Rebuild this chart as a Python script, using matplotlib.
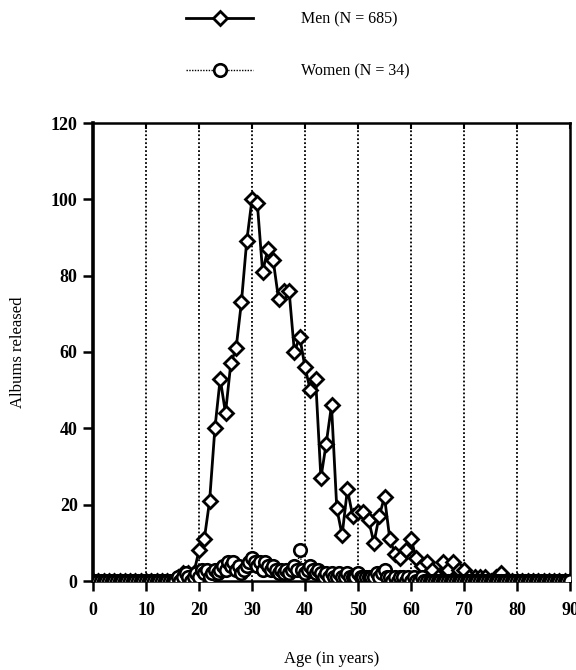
import matplotlib
matplotlib.use("Agg")
import matplotlib.pyplot as plt

# ---- data ----
men_age = list(range(0, 91))
men_albums = [0]*16 + [1, 2, 2, 2, 8, 11, 21, 40, 53, 44, 57, 61, 73, 89,
              100, 99, 81, 87, 84, 74, 76, 76, 60, 64, 56, 50, 53, 27, 36, 46,
              19, 12, 24, 17, 18, 18, 16, 10, 17, 22, 11, 7, 6, 8, 11, 6, 4, 5, 3, 1,
              5, 3, 5, 3, 3, 1, 1, 1, 1, 0, 1, 2, 0, 0, 0, 0, 0, 0, 0, 0,
              0, 0, 0, 0, 0]

women_age = [a / 2 for a in range(0, 181)]
women_albums = ([0]*30 +
                [0, 0, 1, 0, 1, 2, 1, 0, 1, 2,     # 15-19.5
                 1, 3, 2, 3, 1, 2, 3, 2, 3, 4,     # 20-24.5
                 3, 5, 4, 5, 3, 4, 2, 3, 4, 5,     # 25-29.5
                 6, 5, 4, 5, 3, 5, 4, 3, 4, 3,     # 30-34.5
                 2, 3, 2, 3, 2, 3, 4, 3, 8, 3,     # 35-39.5
                 2, 3, 4, 3, 2, 3, 2, 1, 2, 1,     # 40-44.5
                 2, 1, 1, 2, 1, 1, 2, 1, 1, 1,     # 45-49.5
                 2, 1, 1, 1, 1, 1, 1, 2, 1, 2,     # 50-54.5
                 3, 1, 1, 0, 1, 0, 1, 1, 0, 1,     # 55-59.5
                 0, 1, 0, 0, 1, 0, 0, 0, 0, 0] +   # 60-64.5
                [0]*51)                            # 65-90

x_ticks = list(range(0, 91, 10))
y_ticks = list(range(0, 121, 20))
grid_x = list(range(10, 81, 10))

plt.rcParams['font.family'] = ['Liberation Serif', 'DejaVu Serif']

fig = plt.figure(figsize=(5.76, 6.70), dpi=100)
ax = fig.add_axes([93/576, 1-581/670, (570-93)/576, (581-123)/670])

for gx in grid_x:
    ax.axvline(gx, color='black', linestyle=(0, (1, 1.2)), linewidth=1.3, zorder=1)

ax.plot(men_age, men_albums, color='black', linewidth=2.0, marker='D',
        markersize=7, markerfacecolor='white', markeredgecolor='black',
        markeredgewidth=2.0, zorder=3, label='Men (N = 685)')
ax.plot(women_age, women_albums, color='black', linewidth=1.0, linestyle=(0, (1, 1)),
        marker='o', markersize=9, markerfacecolor='white', markeredgecolor='black',
        markeredgewidth=1.9, zorder=4, label='Women (N = 34)')

ax.set_xlim(0, 90)
ax.set_ylim(0, 120)
ax.set_xticks(x_ticks)
ax.set_yticks(y_ticks)
ax.tick_params(axis='both', which='major', direction='out', length=7, width=1.8,
               labelsize=13, pad=4)
ax.tick_params(axis='x', top=True, labeltop=False, pad=8)
for lab in ax.get_xticklabels() + ax.get_yticklabels():
    lab.set_fontweight('bold')
for s in ax.spines.values():
    s.set_linewidth(1.8)
ax.spines['left'].set_linewidth(2.6)

for t in ax.xaxis.get_major_ticks():
    t.tick2line.set_marker(3)
    t.tick2line.set_markersize(4)
    t.tick2line.set_markeredgewidth(1.5)

ax.set_xlabel('Age (in years)', fontsize=12, labelpad=23)
ax.set_ylabel('Albums released', fontsize=12, labelpad=18)

leg = ax.legend(loc='upper center', bbox_to_anchor=(0.43, 1.275), frameon=False,
                fontsize=11.5, handlelength=4.2, handletextpad=3.0, labelspacing=2.25,
                numpoints=1)

fig.savefig('out.png', dpi=100)
